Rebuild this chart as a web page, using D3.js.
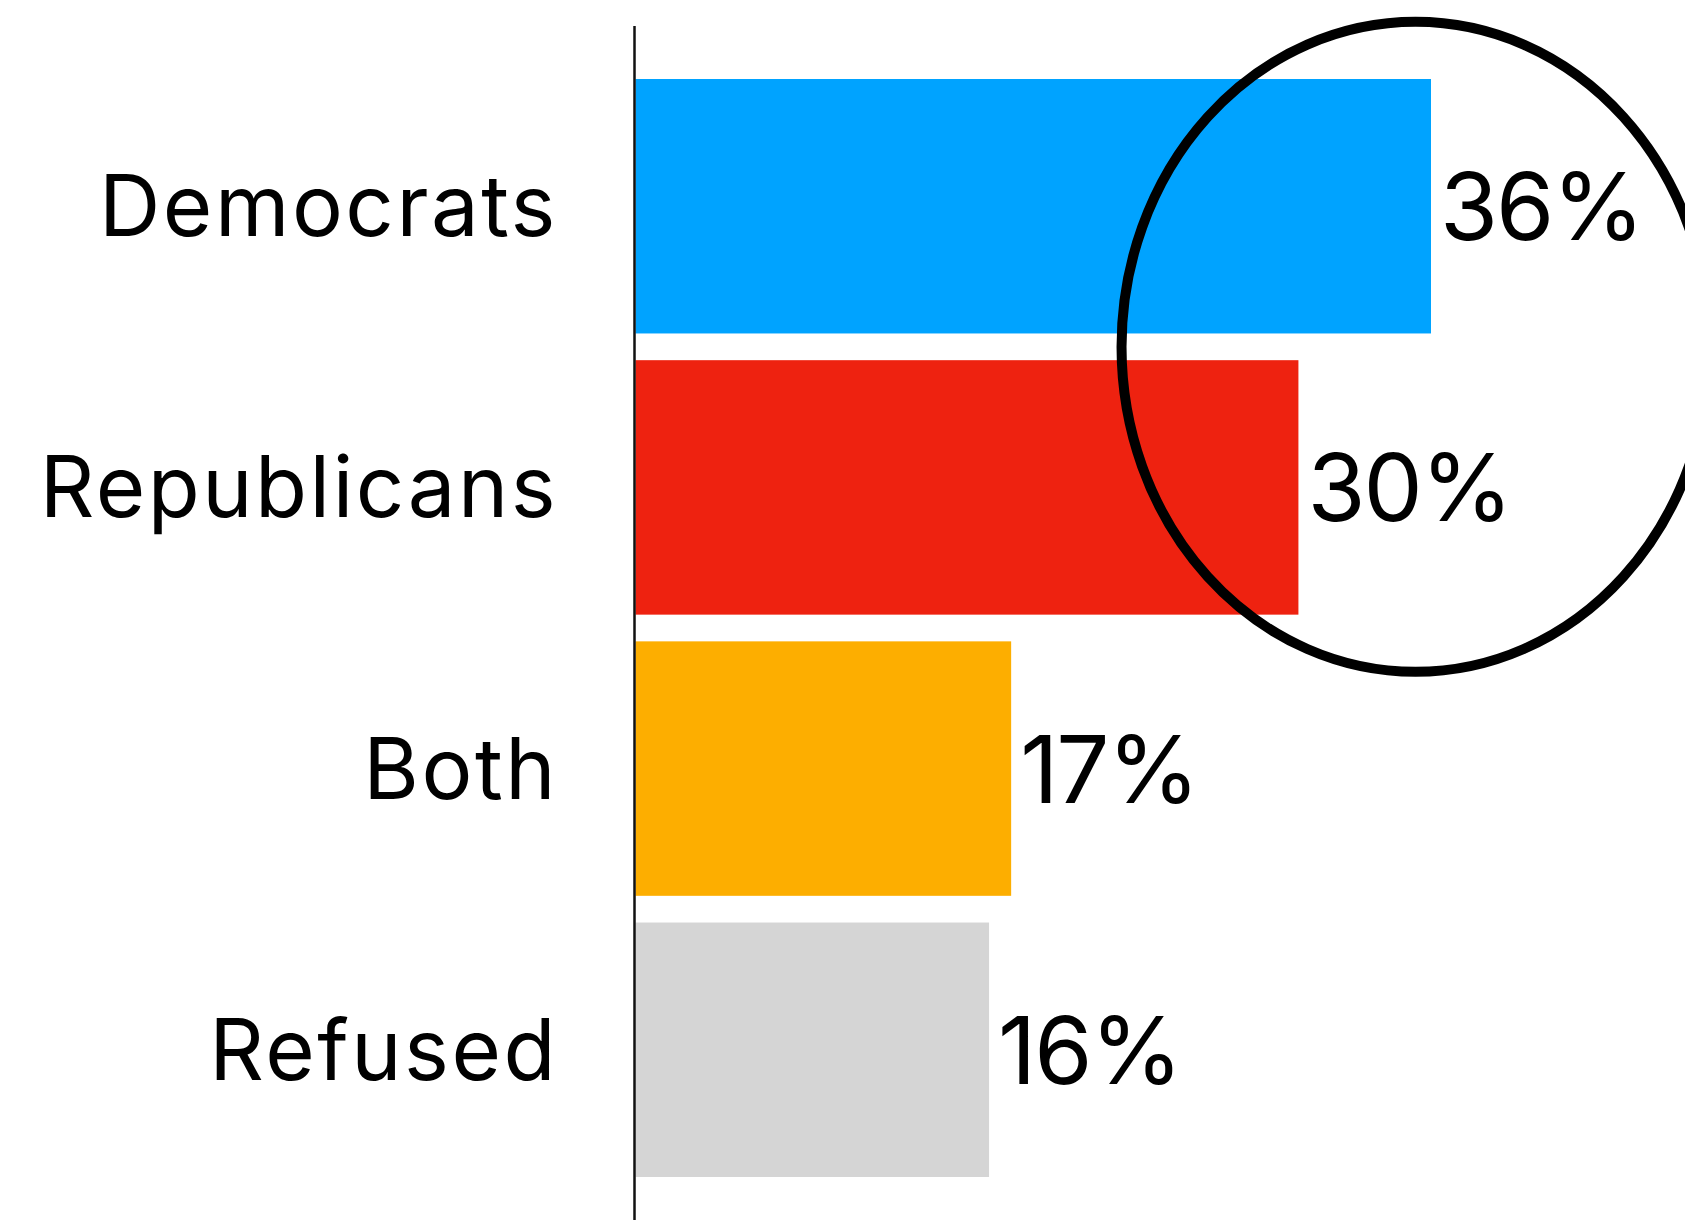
<!DOCTYPE html>
<html>
<head>
<meta charset="utf-8">
<script src="https://cdn.jsdelivr.net/npm/d3@7"></script>
<style>
  body { margin: 0; background: #fff; }
  svg { display: block; }
  .label { font-family: Inter, "Noto Sans", sans-serif; font-size: 85px; fill: #000; letter-spacing: 2.5px; }
  .pct { font-family: Inter, "Noto Sans", sans-serif; font-size: 94px; fill: #000; letter-spacing: -2px; }
</style>
</head>
<body>
<div id="graph"></div>
<script>
var categories = ["Democrats", "Republicans", "Both", "Refused"];
var values = [36, 30, 17, 16];
var colors = ["#00a3ff", "#ee2210", "#fdae00", "#d5d5d5"];
var circled = ["Democrats", "Republicans"];

var width = 1685, height = 1220;

var svg = d3.select("div#graph")
    .append("svg")
    .attr("width", width)
    .attr("height", height);

var y = d3.scaleBand()
    .domain(categories)
    .range([79, 1177])
    .paddingInner(0.095);

var x = d3.scaleLinear()
    .domain([0, 36])
    .range([635.5, 1431]);

var rows = categories.map(function(c, i) { return {cat: c, value: values[i], color: colors[i]}; });

// bars
svg.selectAll("rect.bar")
    .data(rows)
    .enter()
    .append("rect")
    .attr("class", "bar")
    .attr("x", x(0))
    .attr("y", d => y(d.cat))
    .attr("width", d => x(d.value) - x(0))
    .attr("height", y.bandwidth())
    .attr("fill", d => d.color);

// category labels
svg.selectAll("text.label")
    .data(rows)
    .enter()
    .append("text")
    .attr("class", "label")
    .attr("x", 558)
    .attr("y", d => y(d.cat) + y.bandwidth() / 2 + 30)
    .attr("text-anchor", "end")
    .text(d => d.cat);

// value labels
svg.selectAll("text.pct")
    .data(rows)
    .enter()
    .append("text")
    .attr("class", "pct")
    .attr("x", d => x(d.value) + 9)
    .attr("y", d => y(d.cat) + y.bandwidth() / 2 + 34)
    .text(d => d.value + "%");

// axis line
svg.append("line")
    .attr("x1", 634.5).attr("x2", 634.5)
    .attr("y1", 26).attr("y2", height)
    .attr("stroke", "#111")
    .attr("stroke-width", 2.5);

// annotation ellipse round the two big bars
var ringTop = y(circled[0]), ringBottom = y(circled[1]) + y.bandwidth();
svg.append("ellipse")
    .attr("cx", x(35.3))
    .attr("cy", (ringTop + ringBottom) / 2)
    .attr("rx", 294)
    .attr("ry", 325)
    .attr("fill", "none")
    .attr("stroke", "#000")
    .attr("stroke-width", 10);
</script>
</body>
</html>
